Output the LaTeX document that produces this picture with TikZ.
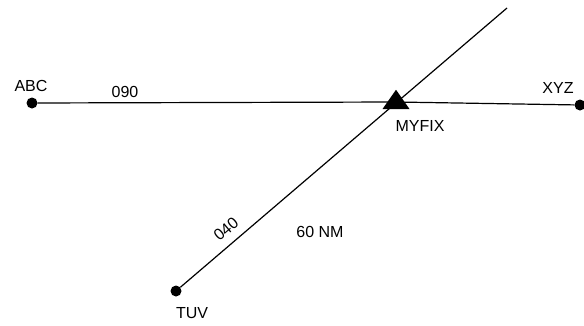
\documentclass[tikz,border=0pt]{standalone}
\usepackage{fontspec}
\setmainfont{Liberation Sans}
\usetikzlibrary{shapes.geometric}
\begin{document}
\begin{tikzpicture}[x=1pt,y=-1pt,
  fixdot/.style={circle,fill=black,inner sep=0pt,minimum size=11pt},
  fixtri/.style={isosceles triangle,shape border rotate=90,isosceles triangle apex angle=70,fill=black,inner sep=0pt,minimum height=18pt,minimum width=27pt},
  route/.style={line width=1.2pt},
  lbl/.style={font=\fontsize{16}{17}\selectfont,inner sep=0pt}]
\useasboundingbox (0,0) rectangle (584,325);
\node[fixdot] (abc) at (32,103) {};
\node[fixdot] (xyz) at (580,105) {};
\node[fixdot] (tuv) at (176,291) {};
\node[fixtri] (myfix) at (396,102) {};
\coordinate (top) at (507,8);
\draw[route] (abc) -- (myfix.center) -- (xyz);
\draw[route] (tuv) -- (top);
\node[lbl] (labc) at (31,86) {ABC};
\node[lbl] (l090) at (125,92) {090};
\node[lbl] (lxyz) at (558,88) {XYZ};
\node[lbl] (lmy) at (420,126) {MYFIX};
\node[lbl,rotate=40] (l040) at (226,229) {040};
\node[lbl] (l60) at (320,232) {60 NM};
\node[lbl] (ltuv) at (192,313) {TUV};
\end{tikzpicture}
\end{document}
